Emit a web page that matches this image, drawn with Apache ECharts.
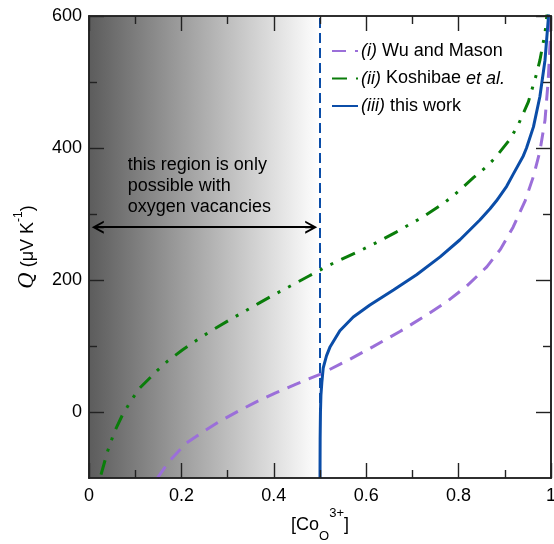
<!DOCTYPE html>
<html><head><meta charset="utf-8">
<script src="https://cdn.jsdelivr.net/npm/echarts@6/dist/echarts.min.js"></script>
<style>html,body{margin:0;padding:0;background:#fff}#c{width:554px;height:544px}</style>
</head><body><div id="c"></div>
<script>
// ---- data ----
const xMajorTicks = [0, 0.2, 0.4, 0.6, 0.8, 1];
const xMinorTicks = [0.1, 0.3, 0.5, 0.7, 0.9];
const yMajorTicks = [0, 200, 400, 600];
const yMinorTicks = [100, 300, 500];
const wuMason = [[0.148,-100],[0.173,-75],[0.209,-48],[0.245,-31],[0.281,-15],[0.325,2],[0.361,15],[0.404,29],[0.447,42],[0.5,57],[0.565,80],[0.615,99],[0.673,122],[0.724,144],[0.774,167],[0.818,191],[0.861,220],[0.89,246],[0.918,280],[0.944,320],[0.962,357],[0.976,395],[0.987,442],[0.994,503],[0.998,559],[0.9995,610]];
const koshibae = [[0.026,-95],[0.04,-60],[0.055,-30],[0.072,-5],[0.09,16],[0.108,35],[0.148,63],[0.17,77],[0.202,94],[0.242,113],[0.267,124],[0.303,139],[0.343,155],[0.368,165],[0.404,179],[0.447,195],[0.476,206],[0.5,215],[0.512,220],[0.558,235],[0.583,243],[0.623,257],[0.666,273],[0.691,283],[0.724,296],[0.767,316],[0.789,328],[0.81,341],[0.832,355],[0.861,372],[0.879,385],[0.911,413],[0.929,435],[0.951,470],[0.969,513],[0.976,533],[0.987,574],[0.991,600],[0.993,615]];
const thisWork = [[0.5,-100],[0.5003,-40],[0.501,0],[0.502,25],[0.504,45],[0.507,67],[0.514,85],[0.522,99],[0.543,123],[0.572,144],[0.608,162],[0.659,185],[0.709,208],[0.76,235],[0.803,261],[0.846,291],[0.868,308],[0.882,320],[0.904,342],[0.918,360],[0.94,388],[0.947,400],[0.962,432],[0.976,478],[0.987,533],[0.994,594],[0.996,620]];
const seriesNames = ['(i) Wu and Mason', '(ii) Koshibae et al.', '(iii) this work'];
const shadedRange = [0, 0.5];
const boundaryX = 0.5;
const arrowY = 280;
const arrowEnds = [0.019, 0.481];
const noteAt = [0.084, 343];
const noteText = 'this region is only\npossible with\noxygen vacancies';

const FONT = '"Liberation Sans", Arial, Helvetica, sans-serif';
const chevron = 'path://M0,10 L5,0 L10,10 L8.4,10 L5.8,4.8 L5.8,10 L4.2,10 L4.2,4.8 L1.6,10 Z';

const chart = echarts.init(document.getElementById('c'), null, {renderer: 'canvas'});
const axisLine = {show: true, onZero: false, lineStyle: {color: '#222', width: 1.6}};
const tickStyle = {color: '#222', width: 1.4};
const yCommon = {type: 'value', min: -100, max: 600, z: 10, splitLine: {show: false}, axisLine};
const xCommon = {type: 'value', min: 0, max: 1, z: 10, splitLine: {show: false}, axisLine};

const legendFmt = {
  '(i) Wu and Mason': '{it|(i)} Wu and Mason',
  '(ii) Koshibae et al.': '{it|(ii)} Koshibae {it|et al.}',
  '(iii) this work': '{it|(iii)} this work'
};

const GRID = {left: 89, right: 3, top: 16, bottom: 66};

function xAx(pos, ticks, len, labels) {
  return Object.assign({}, xCommon, {
    position: pos,
    axisTick: {show: true, inside: true, length: len, customValues: ticks, lineStyle: tickStyle},
    axisLabel: labels ? {customValues: ticks, fontSize: 18, fontFamily: FONT, color: '#000', margin: 9} : {show: false}
  });
}
function yAx(pos, ticks, len, labels) {
  return Object.assign({}, yCommon, {
    position: pos,
    axisTick: {show: true, inside: true, length: len, customValues: ticks, lineStyle: tickStyle},
    axisLabel: labels ? {customValues: ticks, fontSize: 18, fontFamily: FONT, color: '#000', margin: 7} : {show: false}
  });
}

const yMain = yAx('left', yMajorTicks, 15, true);
Object.assign(yMain, {
  name: '{q|Q} (μV K{sup|-1})', nameLocation: 'middle', nameGap: 46, nameRotate: 90,
  nameTextStyle: {fontFamily: FONT, fontSize: 18, color: '#000',
    rich: {
      q: {fontSize: 20, fontStyle: 'italic', fontFamily: '"DejaVu Serif", "Liberation Serif", serif', color: '#000', lineHeight: 30, verticalAlign: 'middle'},
      sup: {fontSize: 12, fontFamily: FONT, color: '#000', lineHeight: 14, verticalAlign: 'top'}
    }}
});

chart.setOption({
  animation: false,
  backgroundColor: '#fff',
  grid: Object.assign({containLabel: false, outerBoundsMode: 'none'}, GRID),
  legend: {
    data: seriesNames,
    orient: 'vertical', left: 326, top: 37,
    itemWidth: 26, itemHeight: 12, itemGap: 9.5,
    selectedMode: false,
    itemStyle: {opacity: 0},
    formatter: n => legendFmt[n],
    textStyle: {fontSize: 18, fontFamily: FONT, color: '#000', padding: [0,0,0,-2],
      rich: {it: {fontStyle: 'italic', fontSize: 18, fontFamily: FONT, color: '#000'}}}
  },
  graphic: [{
    type: 'text', silent: true, z: 20,
    x: GRID.left + (554 - GRID.left - GRID.right) / 2, y: 525,
    style: {
      text: '{b|[Co}{sub|O}{sup|3+}{b|]}',
      align: 'center', verticalAlign: 'middle', fill: '#000',
      fontFamily: FONT, fontSize: 18,
      rich: {
        b: {fontSize: 18, fontFamily: FONT, fill: '#000', lineHeight: 36, verticalAlign: 'middle'},
        sub: {fontSize: 13, fontFamily: FONT, fill: '#000', lineHeight: 14, verticalAlign: 'bottom'},
        sup: {fontSize: 13, fontFamily: FONT, fill: '#000', lineHeight: 14, verticalAlign: 'top'}
      }
    }
  }],
  xAxis: [
    xAx('bottom', xMajorTicks, 15, true),
    xAx('bottom', xMinorTicks, 8, false),
    xAx('top', xMajorTicks, 15, false),
    xAx('top', xMinorTicks, 8, false)
  ],
  yAxis: [
    yMain,
    yAx('left', yMinorTicks, 8, false),
    yAx('right', yMajorTicks, 15, false),
    yAx('right', yMinorTicks, 8, false)
  ],
  series: [
    {type: 'line', name: 'decor', data: [], z: 1, silent: true,
     markArea: {silent: true,
       itemStyle: {color: new echarts.graphic.LinearGradient(0, 0, 1, 0, [
         {offset: 0, color: '#5c5c5c'}, {offset: 1, color: '#ffffff'}])},
       data: [[{xAxis: shadedRange[0]}, {xAxis: shadedRange[1]}]]},
     markLine: {silent: true, animation: false,
       data: [
         [{xAxis: boundaryX, yAxis: -100, symbol: 'none', lineStyle: {color: '#0b4da8', width: 2, type: [10, 5]}},
          {xAxis: boundaryX, yAxis: 600, symbol: 'none'}],
         [{coord: [arrowEnds[0], arrowY], symbol: chevron, symbolSize: [13, 12], lineStyle: {color: '#000', width: 2, type: 'solid'}},
          {coord: [arrowEnds[1], arrowY], symbol: chevron, symbolSize: [13, 12]}]
       ],
       label: {show: false}},
     markPoint: {silent: true, symbol: 'circle', symbolSize: 0,
       data: [{coord: noteAt}],
       label: {show: true, position: 'right', distance: 0, formatter: noteText,
         fontSize: 18, fontFamily: FONT, color: '#000', lineHeight: 21, align: 'left'}}
    },
    {type: 'line', name: seriesNames[0], data: wuMason, showSymbol: false, symbol: 'none', z: 3,
     lineStyle: {color: '#9b6fd9', width: 3, type: [14, 9]}, itemStyle: {color: '#9b6fd9'}},
    {type: 'line', name: seriesNames[1], data: koshibae, showSymbol: false, symbol: 'none', z: 3,
     lineStyle: {color: '#0a7d0a', width: 3, type: [15, 9, 3, 9, 3, 9]}, itemStyle: {color: '#0a7d0a'}},
    {type: 'line', name: seriesNames[2], data: thisWork, showSymbol: false, symbol: 'none', z: 4,
     lineStyle: {color: '#0b4da8', width: 3, type: 'solid'}, itemStyle: {color: '#0b4da8'}}
  ]
});
</script></body></html>
